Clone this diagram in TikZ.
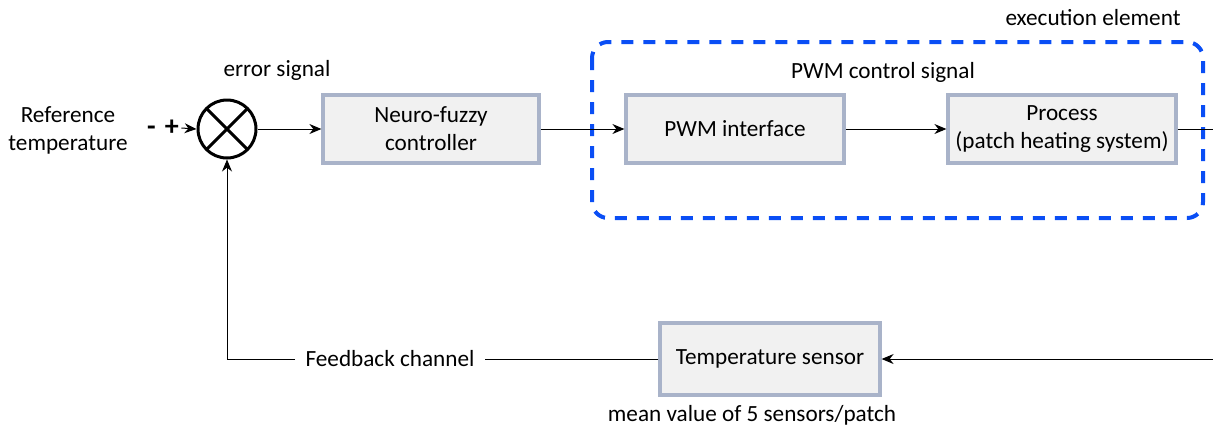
\documentclass[tikz,border=0pt]{standalone}
\usepackage{fontspec}
\setmainfont{Carlito}
\usetikzlibrary{arrows.meta}
\definecolor{boxedge}{HTML}{A9B3C9}
\definecolor{boxfill}{HTML}{F1F1F1}
\definecolor{execblue}{HTML}{0A4EF5}
\tikzset{
  block/.style={draw=boxedge,fill=boxfill,line width=1.6pt,minimum height=34pt,align=center},
  lbl/.style={align=center},
  sig/.style={line width=0.5pt}
}
\begin{document}
\begin{tikzpicture}[x=0.5pt,y=-0.5pt,>={Stealth[length=6pt,width=5pt]},
  font=\fontsize{11.6}{14}\selectfont]
\useasboundingbox (0,0) rectangle (1213,430);
% summing point
\node[circle,draw,line width=1.5pt,minimum size=29pt,inner sep=0pt,
  path picture={\draw[line width=1.5pt] (path picture bounding box.north west)--(path picture bounding box.south east)
  (path picture bounding box.north east)--(path picture bounding box.south west);}] (sum) at (227,129) {};
\node[lbl] (ref) at (68,130) {Reference\\temperature};
\node[inner sep=1pt,font=\fontsize{14}{14}\selectfont\bfseries] (sign) at (163,128) {-\,\,+};
\node[lbl] (err) at (277,70) {error signal};
% blocks
\node[block,minimum width=108pt] (nfc) at (431,129) {Neuro-fuzzy\\controller};
\node[block,minimum width=109pt] (pwm) at (735,129) {PWM interface};
\node[block,minimum width=114pt] (proc) at (1062,129) {Process\\(patch heating system)};
\node[block,minimum width=110pt,minimum height=36pt] (sensor) at (770,359) {Temperature sensor};
% execution element
\draw[execblue,line width=2pt,dash pattern=on 6pt off 5pt,rounded corners=8pt] (592,42) rectangle (1203,218);
\node[lbl] (exec) at (1093,18) {execution element};
\node[lbl] (pwmsig) at (883,72) {PWM control signal};
\node[lbl] (mean) at (752,415) {mean value of 5 sensors/patch};
\node[lbl,inner sep=5pt] (fb) at (390,359) {Feedback channel};
\coordinate (outR) at (1213,129);
\coordinate (inR) at (1213,359);
% signal flow
\draw[sig,->] (sign.east) -- (sum.west);
\draw[sig,->] (sum.east) -- (nfc.west);
\draw[sig,->] (nfc.east) -- (pwm.west);
\draw[sig,->] (pwm.east) -- (proc.west);
\draw[sig] (proc.east) -- (outR);
\draw[sig,->] (inR) -- (sensor.east);
\draw[sig] (sensor.west) -- (fb.east);
\draw[sig,->] (fb.west) -- (fb.west -| sum.south) -- (sum.south);
\end{tikzpicture}
\end{document}
